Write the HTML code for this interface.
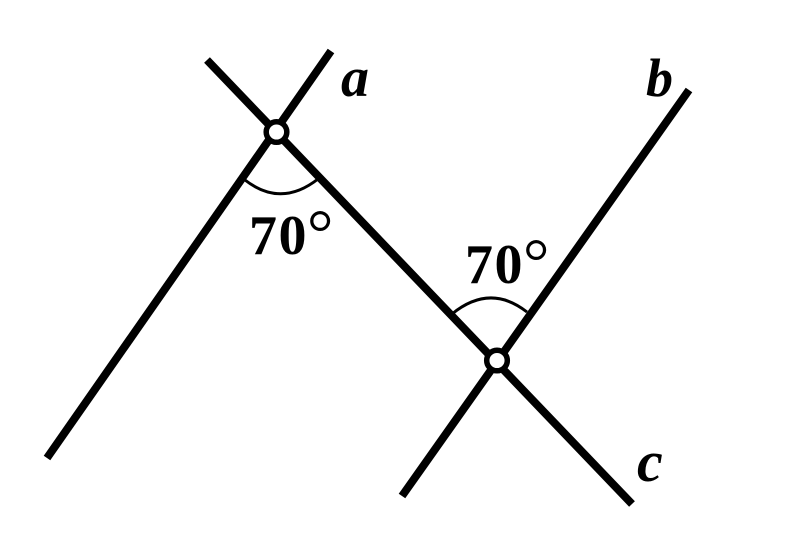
<!DOCTYPE html>
<html>
<head>
<meta charset="utf-8">
<style>
html,body{margin:0;padding:0;background:#fff;}
svg{display:block;}
text{font-family:"Liberation Serif",serif;fill:#000;}
</style>
</head>
<body>
<svg width="800" height="559" viewBox="0 0 800 559" xmlns="http://www.w3.org/2000/svg">
<rect width="800" height="559" fill="#fff"/>
<g stroke="#000" stroke-width="8" fill="none">
<line x1="331" y1="51" x2="47" y2="458"/>
<line x1="689" y1="90" x2="402" y2="496"/>
<line x1="207" y1="60" x2="632" y2="504"/>
</g>
<g stroke="#000" stroke-width="3" fill="none">
<path d="M245 180 Q281 208 318 179"/>
<path d="M452 314 Q490 283 527 312"/>
</g>
<g stroke="#000" stroke-width="5.5" fill="#fff">
<circle cx="276.5" cy="132" r="10.3"/>
<circle cx="497" cy="360.5" r="10.3"/>
</g>
<text x="249" y="254" font-size="56" font-weight="bold" letter-spacing="1.5">70<tspan font-weight="normal" font-size="66" dx="-1" dy="1">°</tspan></text>
<text x="465" y="283" font-size="56" font-weight="bold" letter-spacing="1.5">70<tspan font-weight="normal" font-size="66" dx="-1" dy="1">°</tspan></text>
<text x="341" y="96" font-size="56" font-weight="bold" font-style="italic">a</text>
<text x="646" y="96" font-size="54" font-weight="bold" font-style="italic">b</text>
<text x="637" y="481" font-size="58" font-weight="bold" font-style="italic">c</text>
</svg>
</body>
</html>
